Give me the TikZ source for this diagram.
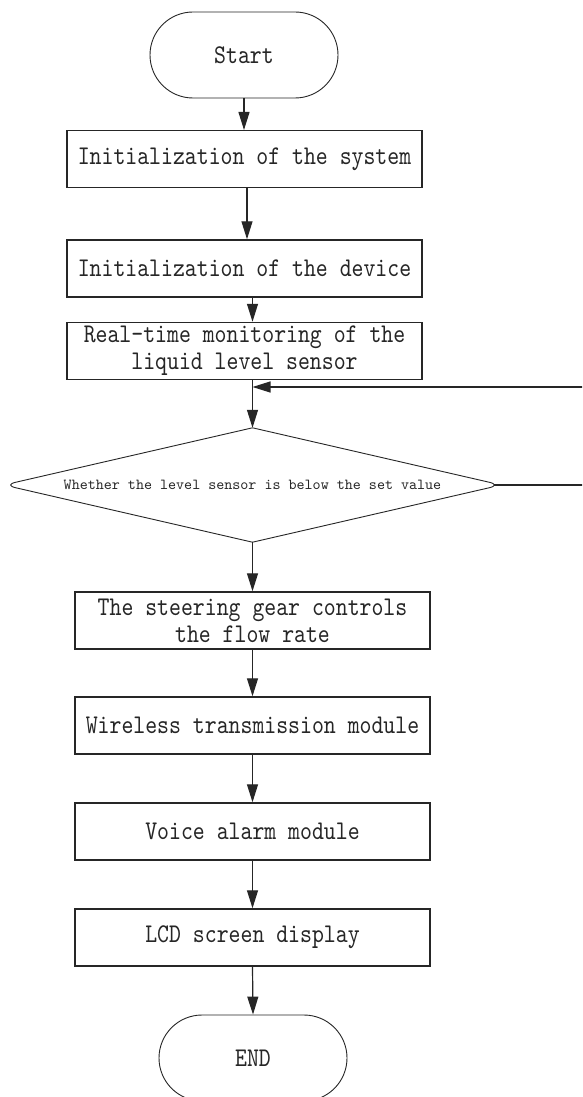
\documentclass[tikz,border=0pt]{standalone}
\usepackage{fontspec}
% condensed typewriter face for the boxes, plain one for the question
\newfontfamily\boxfont{lmmono10-regular.otf}[FakeStretch=0.84]
\newfontfamily\askfont{lmmono10-regular.otf}
\usetikzlibrary{arrows.meta,shapes.geometric}

\tikzset{
  stepbox/.style={draw=black!85, line width=1.5pt, minimum width=355pt,
    minimum height=57pt, inner sep=0pt, align=center, text=black!85,
    font=\boxfont\fontsize{27}{27}\selectfont},
  terminal/.style={draw=black!85, line width=0.9pt, rounded corners=43pt,
    minimum width=188pt, minimum height=86pt, inner sep=0pt, text=black!85,
    font=\boxfont\fontsize{27}{27}\selectfont},
  decision/.style={diamond, aspect=4.36, minimum width=497pt,
    minimum height=114pt, inner sep=0pt, text=black!85,
    font=\askfont\fontsize{15.3}{16}\selectfont},
  outline/.style={draw=black!85, line width=0.9pt, rounded corners=12pt},
  flow/.style={draw=black!85, line width=1.2pt,
    -{Triangle[length=18pt,width=11pt]}}
}

\begin{document}
\begin{tikzpicture}[x=1pt, y=-1pt]
  \useasboundingbox (0,0) rectangle (582,1097);
  \clip (0,0) rectangle (582,1097);
  \fill[white] (0,0) rectangle (582,1097);

  % main column
  \node[terminal] (start) at (244,55) {Start};
  \node[stepbox] (b1) at (244.5,159.2) {Initialization of the system};
  \node[stepbox] (b2) at (244.5,268.5) {Initialization of the device};
  \node[stepbox] (b3) at (244.5,351) {Real-time monitoring of the\\liquid level sensor};
  \node[decision] (dec) at (252.5,485) {Whether the level sensor is below the set value};
  \node[stepbox] (b4) at (252.5,620.5) {The steering gear controls\\the flow rate};
  \node[stepbox] (b5) at (252.5,725.5) {Wireless transmission module};
  \node[stepbox] (b6) at (252.5,831.5) {Voice alarm module};
  \node[stepbox] (b7) at (252.5,937.5) {LCD screen display};
  \node[terminal] (end) at (253,1058) {END};

  % decision outline, rounded only at the side points
  \draw[outline] (dec.north) -- (dec.east) -- (dec.south);
  \draw[outline] (dec.north) -- (dec.west) -- (dec.south);

  % loop back to the monitoring step
  \coordinate (loopx) at (610,387);
  \coordinate (loopin) at (252.5,387);

  % connectors
  \draw[flow] (start.south) -- (start.south |- b1.north);
  \draw[flow] ([xshift=2.5pt]b1.south) -- ([xshift=2.5pt]b2.north);
  \draw[flow] (b2.south -| dec.north) -- (b3.north -| dec.north);
  \draw[flow] (b3.south -| dec.north) -- (dec.north);
  \draw[flow] ([xshift=-6.85pt]dec.east) -| (loopx) |- (loopin);
  \draw[flow] (dec.south) -- (b4.north);
  \draw[flow] (b4) -- (b5);
  \draw[flow] (b5) -- (b6);
  \draw[flow] (b6) -- (b7);
  \draw[flow] (b7.south) -- (end.north);
\end{tikzpicture}
\end{document}
